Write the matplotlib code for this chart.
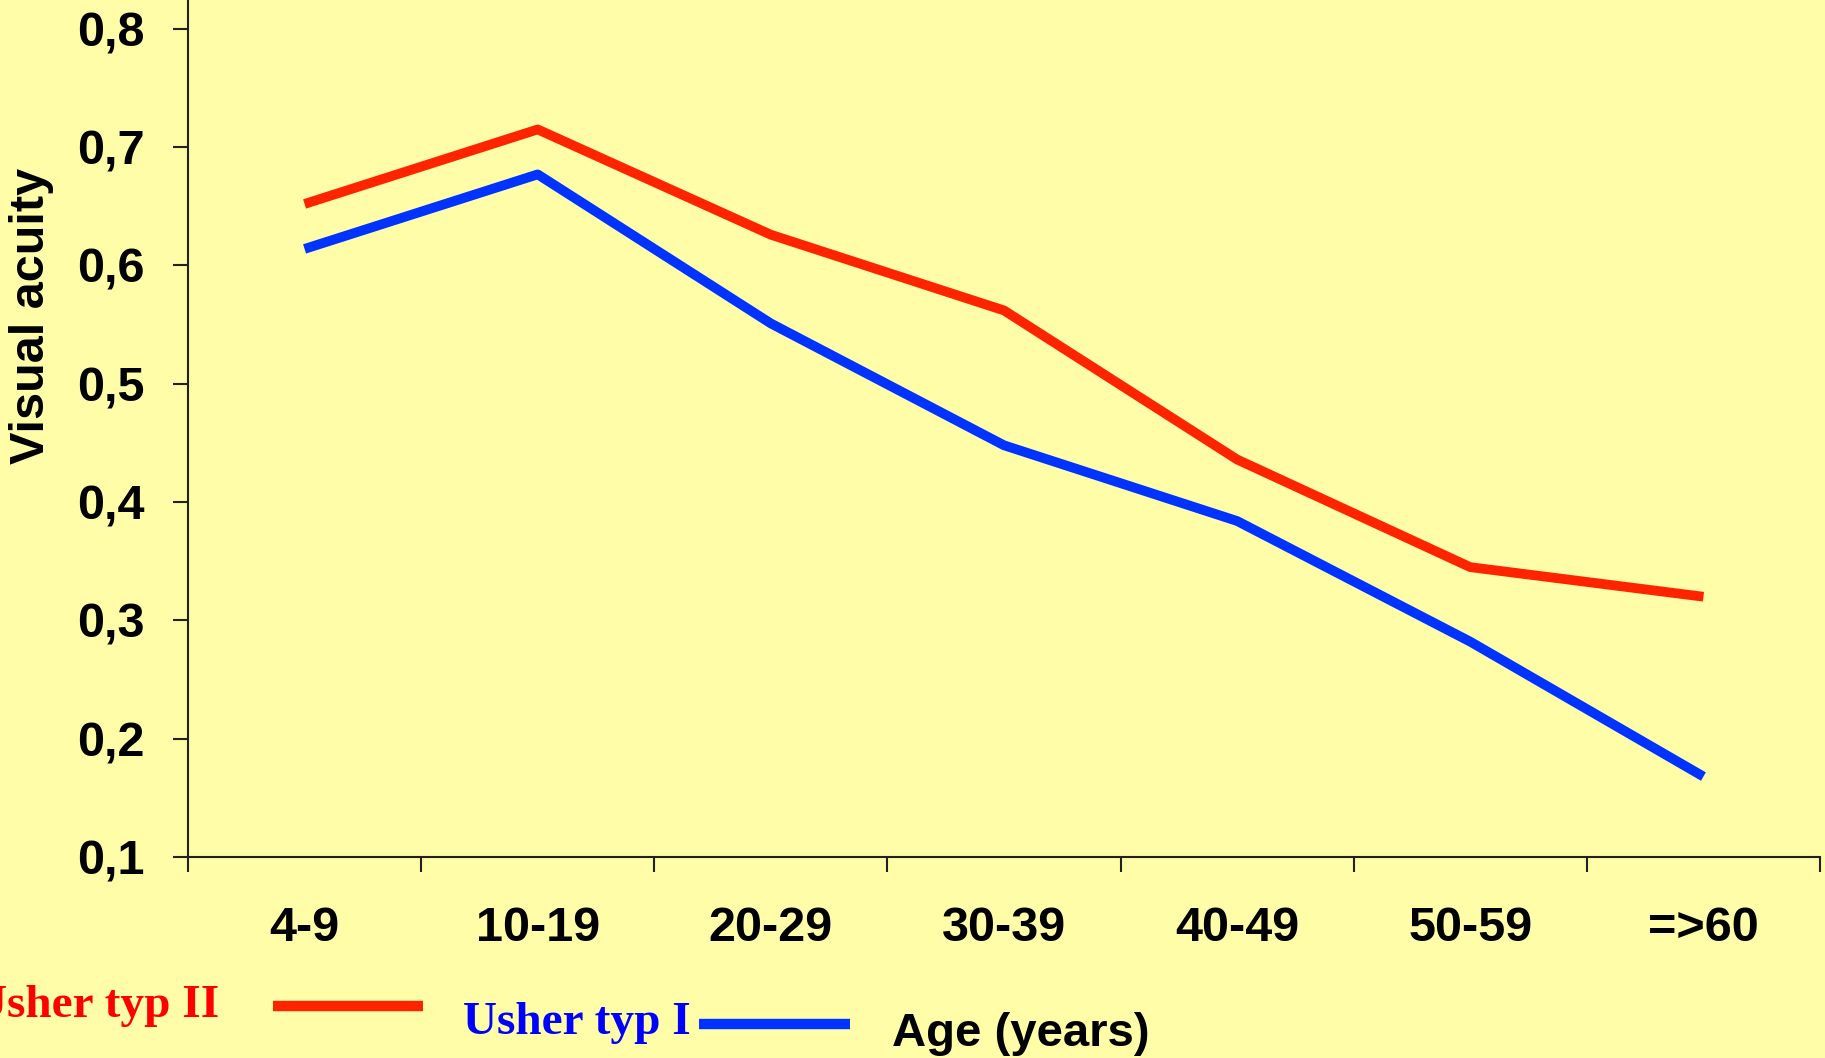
import matplotlib.pyplot as plt
from matplotlib.lines import Line2D

age_groups = ['4-9', '10-19', '20-29', '30-39', '40-49', '50-59', '=>60']
usher_2 = [0.652, 0.715, 0.626, 0.562, 0.436, 0.345, 0.320]
usher_1 = [0.614, 0.677, 0.551, 0.448, 0.384, 0.282, 0.168]
y_ticks = [0.1, 0.2, 0.3, 0.4, 0.5, 0.6, 0.7, 0.8]

bg = '#FFFDA8'
red = '#FF2400'
blue = '#0033FF'

fig = plt.figure(figsize=(18.25, 10.58), dpi=100, facecolor=bg)
ax = fig.add_axes([188 / 1825, 1 - 857 / 1058, (1820 - 188) / 1825, 857 / 1058])
ax.set_facecolor(bg)

x = list(range(len(age_groups)))
ax.plot(x, usher_2, color=red, lw=7, solid_capstyle='butt')
ax.plot(x, usher_1, color=blue, lw=7, solid_capstyle='butt')

ax.set_xlim(-0.5, len(age_groups) - 0.5)
ax.set_ylim(0.1, 0.8244)

for s in ['top', 'right']:
    ax.spines[s].set_visible(False)
for s in ['left', 'bottom']:
    ax.spines[s].set_linewidth(1.5)
    ax.spines[s].set_color('#222222')

# y axis
ax.set_yticks(y_ticks)
ax.set_yticklabels([f'{v:.1f}'.replace('.', ',') for v in y_ticks])
ax.tick_params(axis='y', length=11, width=1.5, color='#222222', pad=20,
               labelsize=35)

# x axis: ticks on boundaries, labels at centers
ax.set_xticks([i - 0.5 for i in range(len(age_groups) + 1)])
ax.set_xticklabels([])
ax.tick_params(axis='x', which='major', length=11, width=1.5,
               color='#222222')
ax.set_xticks(x, minor=True)
ax.set_xticklabels(age_groups, minor=True)
ax.tick_params(axis='x', which='minor', length=0, pad=35, labelsize=35)

for lab in ax.get_xticklabels(minor=True) + ax.get_yticklabels():
    lab.set_fontfamily('Liberation Sans')
    lab.set_fontweight('bold')

fig.text(32 / 1825, 1 - 316 / 1058, 'Visual acuity', rotation=90,
         ha='center', va='center', fontsize=35, fontweight='bold',
         family='Liberation Sans')

# legend-like annotations along the bottom
fig.text(219 / 1825, 1 - 1017 / 1058, 'Usher typ II', color='red',
         ha='right', va='baseline', fontsize=34, fontweight='bold',
         family='Liberation Serif')
fig.add_artist(Line2D([273 / 1825, 423 / 1825], [1 - 1006 / 1058] * 2,
                      color=red, lw=7.5, solid_capstyle='butt'))
fig.text(463 / 1825, 1 - 1034 / 1058, 'Usher typ I', color='#0000FF',
         ha='left', va='baseline', fontsize=34, fontweight='bold',
         family='Liberation Serif')
fig.add_artist(Line2D([699 / 1825, 850 / 1825], [1 - 1024 / 1058] * 2,
                      color=blue, lw=7.5, solid_capstyle='butt'))
fig.text(892 / 1825, 1 - 1046 / 1058, 'Age (years)', color='black',
         ha='left', va='baseline', fontsize=34, fontweight='bold',
         family='Liberation Sans')

fig.savefig('out.png', dpi=100, facecolor=bg)
